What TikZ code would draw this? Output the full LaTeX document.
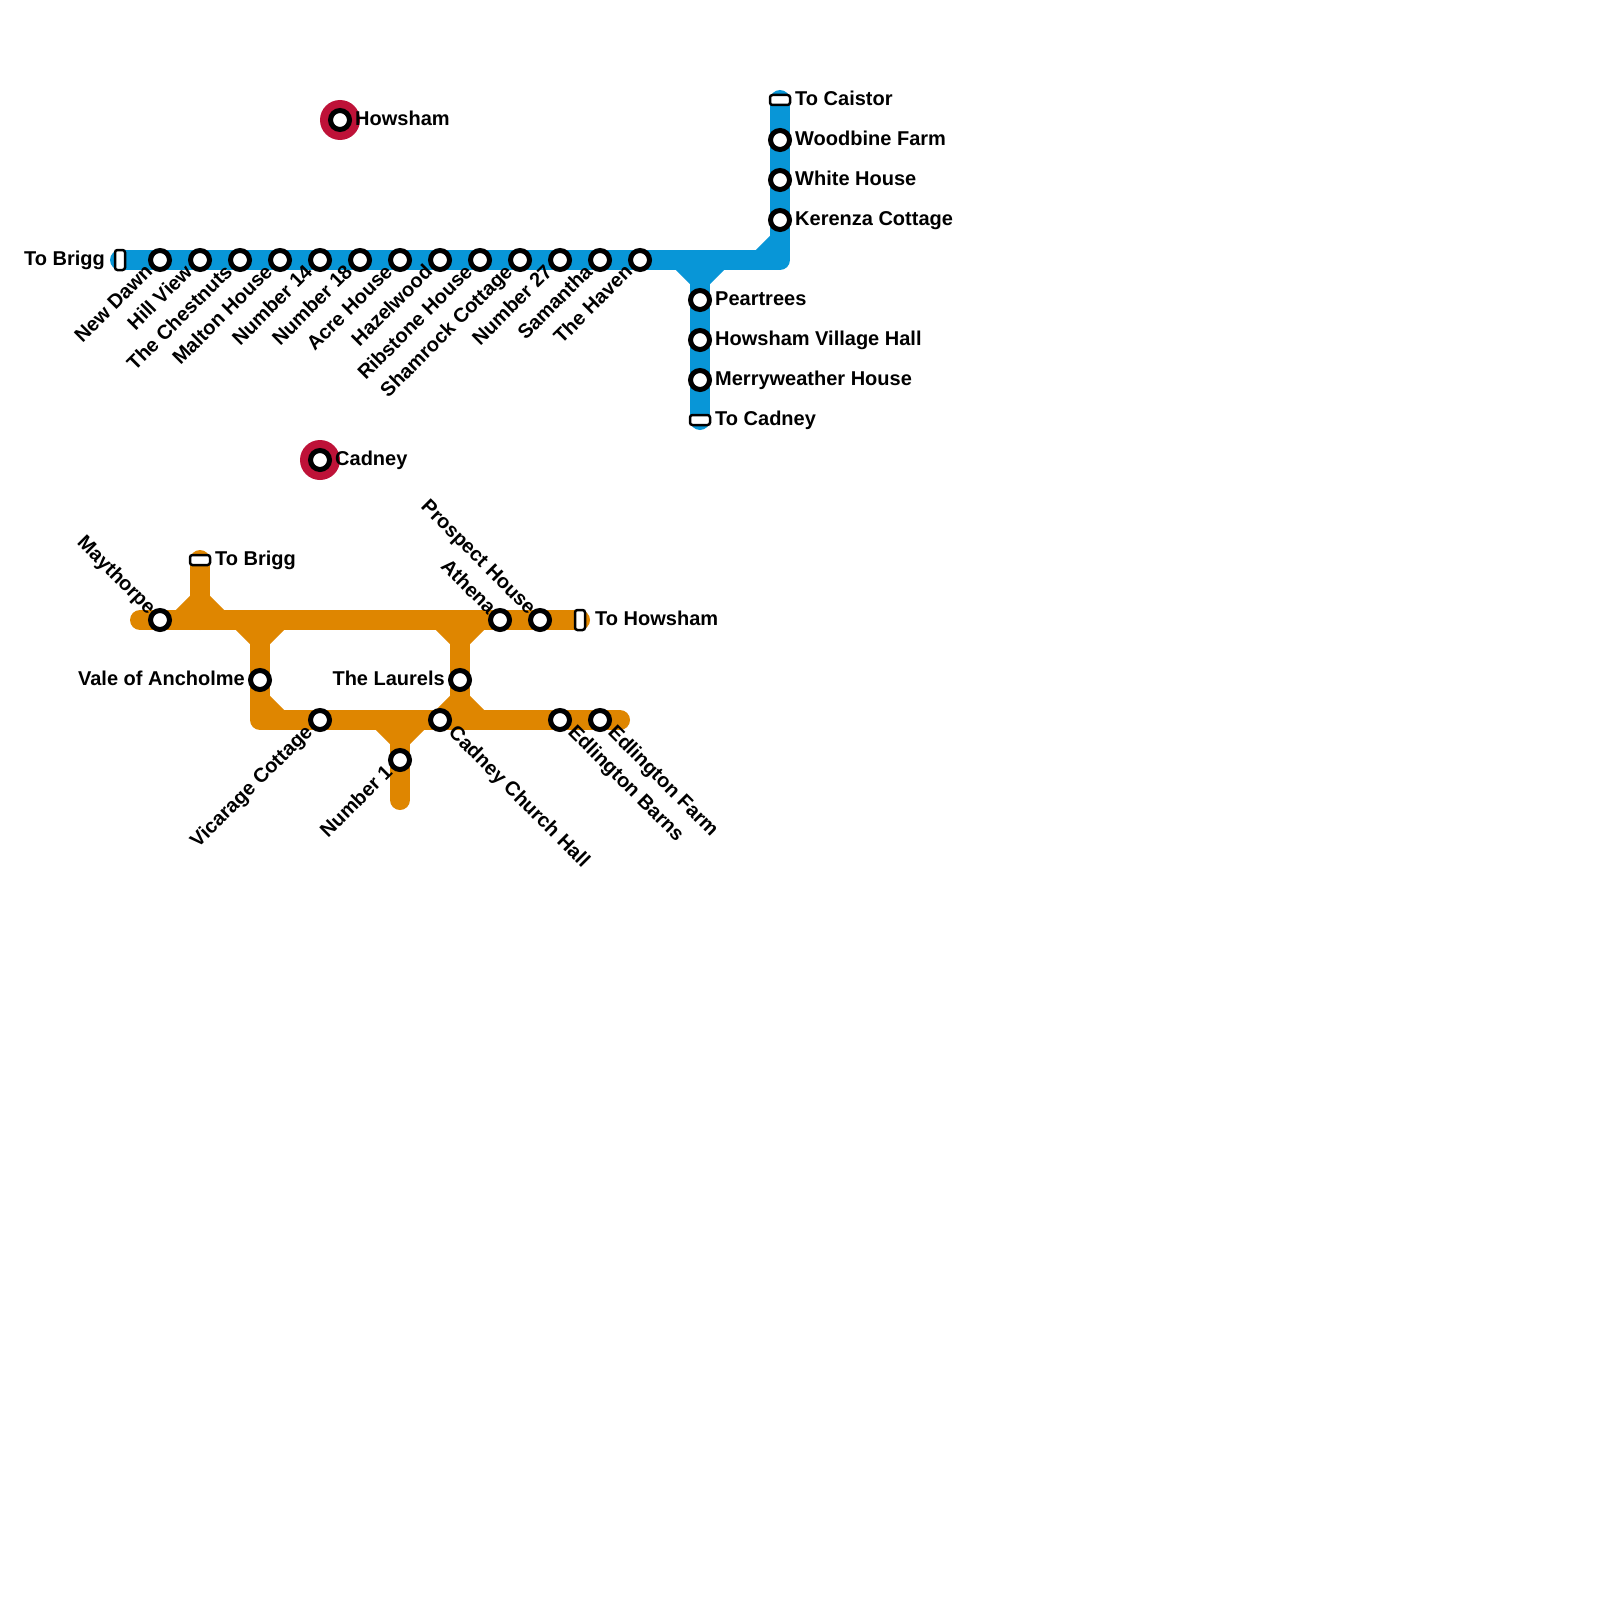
\documentclass[tikz,border=0pt]{standalone}
\usepackage{fontspec}
\setmainfont{Liberation Sans}
\usetikzlibrary{backgrounds}
\definecolor{lineblue}{HTML}{0896D7}
\definecolor{lineorange}{HTML}{DF8600}
\definecolor{linkred}{HTML}{BE1238}
\tikzset{
  stn/.style={circle,draw=black,fill=white,line width=5pt,minimum size=19pt,inner sep=0pt},
  hub/.style={circle,fill=linkred,minimum size=40pt,inner sep=0pt},
  termh/.style={rectangle,rounded corners=2.5pt,draw=black,fill=white,line width=2.5pt,minimum width=20pt,minimum height=10pt,inner sep=0pt},
  termv/.style={rectangle,rounded corners=2.5pt,draw=black,fill=white,line width=2.5pt,minimum width=10pt,minimum height=20pt,inner sep=0pt},
  lab/.style={font=\fontsize{20}{24}\selectfont\bfseries,inner sep=0pt,text=black,text height=14.3pt,text depth=0pt},
  rlab/.style={lab,anchor=west},
  llab/.style={lab,anchor=east},
  dl/.style={lab,anchor=east,rotate=45},
  ul/.style={lab,anchor=east,rotate=-45},
  dr/.style={lab,anchor=west,rotate=-45},
  blueln/.style={draw=lineblue,line width=20pt,line cap=round,line join=round},
  orangeln/.style={draw=lineorange,line width=20pt,line cap=round,line join=round},
  bluefil/.style={draw=lineblue,line width=20pt,line cap=butt,line join=miter},
  orangefil/.style={draw=lineorange,line width=20pt,line cap=butt,line join=miter}
}
\begin{document}
\begin{tikzpicture}[x=1pt,y=-1pt]
\useasboundingbox (0,0) rectangle (1600,1600);
% link hubs
\node[hub] (hubH) at (340,120) {};
\node[hub] (hubC) at (320,460) {};
% blue stations
\node[termv] (bW) at (120,260) {};
\foreach \n/\x in {b1/160,b2/200,b3/240,b4/280,b5/320,b6/360,b7/400,b8/440,b9/480,b10/520,b11/560,b12/600,b13/640}
  \node[stn] (\n) at (\x,260) {};
\node[termh] (bN) at (780,100) {};
\foreach \n/\y in {b14/140,b15/180,b16/220}
  \node[stn] (\n) at (780,\y) {};
\foreach \n/\y in {b17/300,b18/340,b19/380}
  \node[stn] (\n) at (700,\y) {};
\node[termh] (bS) at (700,420) {};
% hub stations
\node[stn] (sH) at (340,120) {};
\node[stn] (sC) at (320,460) {};
% orange stations
\node[termh] (oN) at (200,560) {};
\node[termv] (oE) at (580,620) {};
\node[stn] (o1) at (160,620) {};
\node[stn] (o2) at (260,680) {};
\node[stn] (o3) at (320,720) {};
\node[stn] (o4) at (400,760) {};
\node[stn] (o5) at (440,720) {};
\node[stn] (o6) at (460,680) {};
\node[stn] (o7) at (500,620) {};
\node[stn] (o8) at (540,620) {};
\node[stn] (o9) at (560,720) {};
\node[stn] (o10) at (600,720) {};
% named line points
\coordinate (bCorner) at (780,260);
\coordinate (bJ) at (700,260);
\coordinate (oW) at (140,620);
\coordinate (oSW) at (260,720);
\coordinate (oR) at (620,720);
\coordinate (oB) at (400,800);
\coordinate (oT) at (200,620);
\coordinate (oA) at (260,620);
\coordinate (oC) at (460,620);
\coordinate (oD) at (460,720);
\coordinate (oF) at (400,720);
\begin{scope}[on background layer]
  % blue line
  \draw[blueln] (bW.center) -- (bCorner) -- (bN.center);
  \draw[blueln] (bJ) -- (bS.center);
  \draw[bluefil] (680,260) -- (700,280) -- (720,260);
  \draw[bluefil] (760,260) -- (780,240);
  % orange line
  \draw[orangeln] (oW) -- (oE.center);
  \draw[orangeln] (oT) -- (oN.center);
  \draw[orangeln] (oA) -- (oSW) -- (oR);
  \draw[orangeln] (oF) -- (oB);
  \draw[orangeln] (oC) -- (oD);
  \draw[orangefil] (180,620) -- (200,600) -- (220,620);
  \draw[orangefil] (240,620) -- (260,640) -- (280,620);
  \draw[orangefil] (440,620) -- (460,640) -- (480,620);
  \draw[orangefil] (260,700) -- (280,720);
  \draw[orangefil] (380,720) -- (400,740) -- (420,720);
  \draw[orangefil] (440,720) -- (460,700) -- (480,720);
\end{scope}
% blue labels
\node[llab] (tbW) at (105,258.5) {To Brigg};
\node[dl] (l1) at (148.5,268) {New Dawn};
\node[dl] (l2) at (188.5,268) {Hill View};
\node[dl] (l3) at (228.5,268) {The Chestnuts};
\node[dl] (l4) at (268.5,268) {Malton House};
\node[dl] (l5) at (308.5,268) {Number 14};
\node[dl] (l6) at (348.5,268) {Number 18};
\node[dl] (l7) at (388.5,268) {Acre House};
\node[dl] (l8) at (428.5,268) {Hazelwood};
\node[dl] (l9) at (468.5,268) {Ribstone House};
\node[dl] (l10) at (508.5,268) {Shamrock Cottage};
\node[dl] (l11) at (548.5,268) {Number 27};
\node[dl] (l12) at (588.5,268) {Samantha};
\node[dl] (l13) at (628.5,268) {The Haven};
\node[rlab] (tbN) at (795,98.5) {To Caistor};
\node[rlab] (l14) at (795,138.5) {Woodbine Farm};
\node[rlab] (l15) at (795,178.5) {White House};
\node[rlab] (l16) at (795,218.5) {Kerenza Cottage};
\node[rlab] (l17) at (715,298.5) {Peartrees};
\node[rlab] (l18) at (715,338.5) {Howsham Village Hall};
\node[rlab] (l19) at (715,378.5) {Merryweather House};
\node[rlab] (tbS) at (715,418.5) {To Cadney};
% hub labels
\node[rlab] (lH) at (355,118.5) {Howsham};
\node[rlab] (lC) at (335,458.5) {Cadney};
% orange labels
\node[rlab] (toN) at (215,558.5) {To Brigg};
\node[rlab] (toE) at (595,618.5) {To Howsham};
\node[ul] (m1) at (153,610.5) {Maythorpe};
\node[llab] (m2) at (245,678.5) {Vale of Ancholme};
\node[dl] (m3) at (308.5,728) {Vicarage Cottage};
\node[dl] (m4) at (388.5,768) {Number 1};
\node[dr] (m5) at (452.5,728.6) {Cadney Church Hall};
\node[llab] (m6) at (445,678.5) {The Laurels};
\node[ul] (m7) at (493,610.5) {Athena};
\node[ul] (m8) at (533,610.5) {Prospect House};
\node[dr] (m9) at (572,728) {Edlington Barns};
\node[dr] (m10) at (612,728.5) {Edlington Farm};
\end{tikzpicture}
\end{document}
